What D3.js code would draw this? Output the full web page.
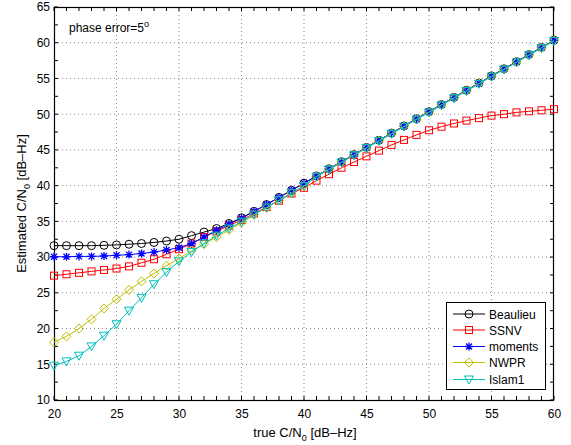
<!DOCTYPE html>
<html><head><meta charset="utf-8">
<script src="https://cdn.jsdelivr.net/npm/d3@7"></script>
<style>body{margin:0;background:#fff;} svg{display:block;font-family:"Liberation Sans",Arial,sans-serif;}</style>
</head><body>
<svg id="c" width="571" height="445"></svg>
<script>
const xValues = d3.range(20, 61, 1);
const beaulieu = [31.6,31.6,31.6,31.6,31.65,31.7,31.8,31.9,32.05,32.25,32.5,33.0,33.5,34.0,34.7,35.5,36.4,37.35,38.35,39.35,40.35,41.35,42.35,43.35,44.35,45.35,46.35,47.35,48.35,49.35,50.35,51.35,52.35,53.35,54.35,55.35,56.35,57.35,58.35,59.35,60.35];
const ssnv = [27.4,27.6,27.8,28.0,28.2,28.4,28.7,29.2,29.7,30.4,31.1,31.9,32.8,33.6,34.4,35.2,36.1,37.0,37.9,38.9,39.7,40.7,41.6,42.5,43.3,44.1,44.9,45.7,46.4,47.1,47.75,48.25,48.7,49.1,49.45,49.8,50.0,50.25,50.4,50.55,50.7];
const moments = [30.05,30.05,30.1,30.1,30.15,30.25,30.35,30.5,30.7,31.0,31.3,31.9,32.8,33.75,34.6,35.45,36.4,37.35,38.35,39.35,40.35,41.35,42.35,43.35,44.35,45.35,46.35,47.35,48.35,49.35,50.35,51.35,52.35,53.35,54.35,55.35,56.35,57.35,58.35,59.35,60.35];
const nwpr = [18.1,18.9,20.0,21.3,22.8,24.1,25.4,26.6,27.7,28.8,29.8,30.9,31.8,32.8,33.8,34.8,35.9,36.9,37.95,38.95,39.95,41.3,42.3,43.3,44.3,45.3,46.3,47.3,48.3,49.3,50.3,51.3,52.3,53.3,54.3,55.3,56.3,57.3,58.3,59.3,60.3];
const islam1 = [14.8,15.4,16.2,17.5,19.0,20.6,22.5,24.3,26.2,27.9,29.4,30.7,31.9,33.0,34.0,34.95,35.95,36.95,37.95,38.95,39.95,41.25,42.25,43.25,44.25,45.25,46.25,47.25,48.25,49.25,50.25,51.25,52.25,53.25,54.25,55.25,56.25,57.25,58.25,59.25,60.25];
const seriesNames = ["Beaulieu","SSNV","moments","NWPR","Islam1"];
const xTicks = [20,25,30,35,40,45,50,55,60];
const yTicks = [10,15,20,25,30,35,40,45,50,55,60,65];

const series = [
  {name:seriesNames[0], values:beaulieu, color:"#000000", marker:"circle"},
  {name:seriesNames[1], values:ssnv, color:"#ff0000", marker:"square"},
  {name:seriesNames[2], values:moments, color:"#0000ff", marker:"star"},
  {name:seriesNames[3], values:nwpr, color:"#bfbf00", marker:"diamond"},
  {name:seriesNames[4], values:islam1, color:"#00bfbf", marker:"triangle"}
];

const L=54, R=554, T=7, B=400;
const svg = d3.select("#c");
const x = d3.scaleLinear().domain([20,60]).range([L,R]);
const y = d3.scaleLinear().domain([10,65]).range([B,T]);

// grid
const g = svg.append("g");
g.selectAll(".gx").data(xTicks.slice(1,-1)).join("line")
  .attr("x1",d=>x(d)).attr("x2",d=>x(d)).attr("y1",T).attr("y2",B)
  .attr("stroke","#888").attr("stroke-width",1).attr("stroke-dasharray","1,3");
g.selectAll(".gy").data(yTicks.slice(1,-1)).join("line")
  .attr("y1",d=>y(d)).attr("y2",d=>y(d)).attr("x1",L).attr("x2",R)
  .attr("stroke","#888").attr("stroke-width",1).attr("stroke-dasharray","1,3");

// axes with inward ticks
const xMinor = d3.range(20,61,1);
const yMinor = d3.range(10,65.1,2.5);
const tk = 4;
const ax = svg.append("g").attr("stroke","#000").attr("stroke-width",1);
xMinor.forEach(v=>{
  ax.append("line").attr("x1",x(v)).attr("x2",x(v)).attr("y1",B).attr("y2",B-tk);
  ax.append("line").attr("x1",x(v)).attr("x2",x(v)).attr("y1",T).attr("y2",T+tk);
});
yMinor.forEach(v=>{
  ax.append("line").attr("y1",y(v)).attr("y2",y(v)).attr("x1",L).attr("x2",L+tk);
  ax.append("line").attr("y1",y(v)).attr("y2",y(v)).attr("x1",R).attr("x2",R-tk);
});

// axes via d3 for labels
const xAxis = svg.append("g").attr("transform",`translate(0,${B})`)
  .call(d3.axisBottom(x).tickValues(xTicks).tickSize(0).tickPadding(9).tickFormat(d3.format("d")));
const yAxis = svg.append("g").attr("transform",`translate(${L},0)`)
  .call(d3.axisLeft(y).tickValues(yTicks).tickSize(0).tickPadding(4).tickFormat(d3.format("d")));
[xAxis,yAxis].forEach(a=>{
  a.select(".domain").remove();
  a.selectAll("text").attr("font-size","12px").attr("font-family","Liberation Sans, Arial, sans-serif").attr("fill","#000");
});

svg.append("rect").attr("x",L+0.5).attr("y",T+0.5).attr("width",R-L-1).attr("height",B-T)
  .attr("fill","none").attr("stroke","#000").attr("stroke-width",1.2);

// markers
function drawMarker(sel, type, color){
  if(type==="circle"){
    sel.append("circle").attr("r",4).attr("fill","none").attr("stroke",color).attr("stroke-width",1);
  } else if(type==="square"){
    sel.append("rect").attr("x",-3.5).attr("y",-3.5).attr("width",7).attr("height",7).attr("fill","none").attr("stroke",color).attr("stroke-width",1);
  } else if(type==="diamond"){
    sel.append("path").attr("d","M0,-4.5L4.5,0L0,4.5L-4.5,0Z").attr("fill","none").attr("stroke",color).attr("stroke-width",1);
  } else if(type==="triangle"){
    sel.append("path").attr("d","M-4.5,-3.5L4.5,-3.5L0,4.5Z").attr("fill","none").attr("stroke",color).attr("stroke-width",1);
  } else if(type==="star"){
    sel.append("path").attr("d","M-4,0L4,0M0,-4L0,4M-3,-3L3,3M-3,3L3,-3").attr("fill","none").attr("stroke",color).attr("stroke-width",1.3);
  }
}

const line = d3.line().x((d,i)=>x(xValues[i])).y(d=>y(d));
const plot = svg.append("g");
series.forEach(s=>{
  const sg = plot.append("g");
  sg.append("path").datum(s.values).attr("d",line).attr("fill","none").attr("stroke",s.color).attr("stroke-width",1);
  s.values.forEach((v,i)=>{
    const m = sg.append("g").attr("transform",`translate(${x(xValues[i])},${y(v)})`);
    drawMarker(m, s.marker, s.color);
  });
});

// annotation
const ann = svg.append("text").attr("x",69).attr("y",32).attr("font-size","12px").attr("fill","#000");
ann.append("tspan").text("phase error=5");
ann.append("tspan").attr("dy",-5).attr("font-size","9px").text("o");

// legend
const lg = svg.append("g");
lg.append("rect").attr("x",446.5).attr("y",302.5).attr("width",99).attr("height",87).attr("fill","#fff").attr("stroke","#000").attr("stroke-width",1);
const rowY = [314,330,346.5,362.5,379.5];
series.forEach((s,i)=>{
  lg.append("line").attr("x1",453).attr("x2",485).attr("y1",rowY[i]).attr("y2",rowY[i]).attr("stroke",s.color).attr("stroke-width",1);
  const m = lg.append("g").attr("transform",`translate(469,${rowY[i]})`);
  drawMarker(m, s.marker, s.color);
  lg.append("text").attr("x",489).attr("y",rowY[i]+4.5).attr("font-size","12px").attr("fill","#000").text(s.name);
});

// axis titles
const xt = svg.append("text").attr("x",305).attr("y",437).attr("text-anchor","middle").attr("font-size","13px").attr("fill","#000");
xt.append("tspan").text("true C/N");
xt.append("tspan").attr("dy",4).attr("font-size","9px").text("0");
xt.append("tspan").attr("dy",-4).text(" [dB\u2013Hz]");

const yt = svg.append("text").attr("transform",`translate(26,${(T+B)/2}) rotate(-90)`).attr("text-anchor","middle").attr("font-size","13px").attr("fill","#000");
yt.append("tspan").text("Estimated C/N");
yt.append("tspan").attr("dy",4).attr("font-size","9px").text("0");
yt.append("tspan").attr("dy",-4).text(" [dB\u2013Hz]");
</script>
</body></html>
